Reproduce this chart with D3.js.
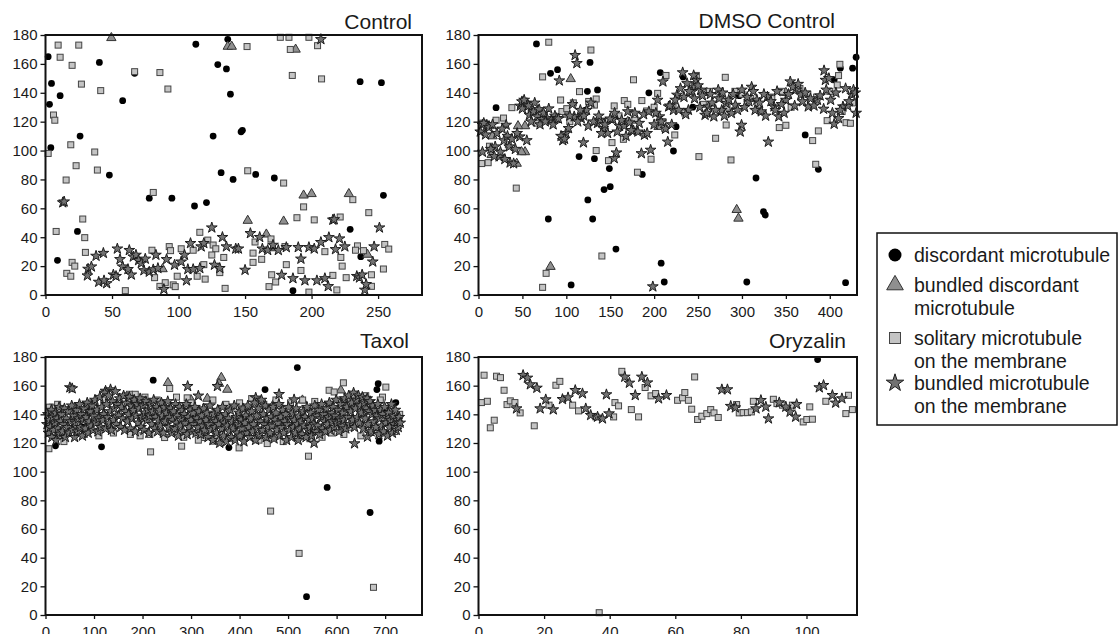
<!DOCTYPE html>
<html>
<head>
<meta charset="utf-8">
<script src="https://cdn.jsdelivr.net/npm/d3@7"></script>
<style>
  body { margin: 0; background: #fff; }
  svg text { font-family: "Liberation Sans", Arial, sans-serif; fill: #1a1a1a; }
</style>
</head>
<body>
<svg id="chart" width="1119" height="634"></svg>
<script>
// legend categories (one entry per marker type, split into lines as printed)
const categories = [
    ["discordant microtubule"],
    ["bundled discordant", "microtubule"],
    ["solitary microtubule", "on the membrane"],
    ["bundled microtubule", "on the membrane"]
];
const yTicks = [0, 20, 40, 60, 80, 100, 120, 140, 160, 180];

// ---- Control ----
const controlCircles = [[2,165],[3,132],[4.5,146.5],[4,102],[11,138],[26,110],[9,24],[24,44],[40.5,161],[48,83],[58,134.5],[67,153.5],[78,67],[95,67],[113,173.6],[112,61.6],[121,64],[126,110],[129.5,159.5],[132,84.7],[137,177],[136,156.5],[139,139],[141,80],[147,113],[148,114],[158,83.5],[172,81],[186,3],[236.5,147.7],[252.5,147],[254,69],[229,45.5],[237,26.5]];
const controlTriangles = [[49.5,178],[137,172],[140,172],[188,170],[194,69],[200,70],[228,70],[152,51.5],[179,51],[88,18],[166,42],[171,32.5],[242,28]];
const controlSquares = [[2,98],[9.5,173],[11,164.6],[6,124.6],[7,121],[20,159],[25,173],[27,146],[19,104],[23,89.5],[15.5,79.6],[8,44],[28,52.6],[29.5,39.7],[30,29.5],[16,15],[19,13],[20,22.6],[22,20],[37,99],[39,86.5],[41.5,141.5],[67,154.6],[81,71],[86,154],[92,142.6],[60,3],[80,31],[82,12],[86,6],[90,8.5],[93,33.5],[94,30.7],[96,7],[97.5,5.8],[99,13],[102,32],[111,31],[114,13],[116,43.4],[120,11],[119,21],[122,38],[126,34.6],[128,32],[125,27.7],[131,15.5],[135,4.6],[134,26],[151.5,172],[152,86],[156,29],[156,22.6],[157.5,36.7],[162.5,24.7],[168,5.8],[170,14],[173,9],[169.5,38.8],[176.5,178.4],[183,178.4],[184,170],[185.5,152],[179,77.5],[180,33.5],[181,21],[189,53.5],[194,61],[192,17],[198,178.4],[198,2],[202,52],[204.5,172.6],[207.5,149.6],[210,30],[216,13.6],[219,3.5],[221.5,54],[222,26],[223,20],[226,12],[231,66],[234.5,34],[233,31],[239,30.7],[243,57],[245,14],[245,6],[254,18],[255,35],[258,31.8]];
const controlStars = [[13,64],[14,64.6],[32,18],[31.5,13.4],[34.5,19.6],[38,27],[40,9],[43.5,29],[46,8],[44,10],[51,14],[53,13],[54,32],[56,24.7],[58,19.6],[62,17.8],[63,31],[64.5,14],[66,26.5],[68,27.7],[70,24],[72,22],[75,25],[74,17],[78,16],[81,17.6],[83,27.7],[84.5,18.5],[89,4],[91,24.7],[97,20.8],[102,23],[104.5,27.7],[106,10],[107,17.8],[109,35.8],[111,17.8],[116,18.5],[117,33.5],[119,35.8],[125,46.6],[127,20.8],[131,18.5],[133,40],[136,33.5],[143,32],[145,32],[150,17.3],[154,42.7],[161,40],[163,32],[167,31],[171,34.6],[177.5,13.8],[175,31],[181,33],[186,11.5],[190,33],[192,25],[195,10],[198,33],[202,32],[204,10],[207,36.5],[210,11.5],[212.5,6],[216,52],[217,52.3],[213,39.9],[218,31.6],[221,39],[225,33.5],[234,13],[236,12],[238,14],[240,3.5],[241,7.4],[247,33.5],[246,23],[251,46.6],[207,177]];

// ---- DMSO Control ----
const dmsoCircles = [[66,173.8],[82,153.5],[90,156],[20,129.7],[127,161],[124,141],[135.5,142],[122,128],[114.5,95.8],[132,94.4],[149,87.5],[143,73],[150,75],[124.5,65.8],[130,52.6],[79.5,52.6],[156.5,31.8],[105.5,7],[186.5,83.5],[194,140],[207,154],[222,99.7],[225,116.5],[233,151],[244,130],[208,22],[211.5,9],[297,138],[305.5,9],[316,81],[324.5,57.7],[326.5,55.4],[372,110.8],[387,87],[405,149],[412,157],[426,157],[430,164.6],[418,8.5]];
const dmsoTriangles = [[105,149.6],[82,19.6],[294,59],[296,53],[16,110],[15,97],[43.5,91],[53,99],[49,99],[53,117],[205,116.5],[12,117],[45,117],[100,125],[170,120],[245,145],[260,140],[350,140]];
const dmsoSquares = [[80,175],[73,151],[128,169.6],[73,5.3],[77,15],[43,74],[140.5,27],[176.5,149],[181,85],[134,100],[152,105.5],[148,93],[196.5,94],[213.5,152],[223.5,110.8],[251,95.8],[270,108.5],[281,150.7],[282,117.7],[287.5,93.5],[342.5,115.9],[350,117.5],[380.5,106.9],[384,90.5],[387,113.6],[397,120.7],[411.5,159.7],[410,151.9],[408.5,145.4],[418.5,119.3],[423.5,118.9],[3.6,91],[11,91.6],[12.5,103],[28.5,122.5],[38,129.7],[95,127],[93.5,135],[100.5,129],[108,133],[115,140.8],[125.5,134],[134,135.7],[132,131.5],[154.5,130.9],[166,134.6],[165,107.8],[186,134.6],[191.5,127.4],[200,130],[204,139.6],[212,115.4],[221.5,130.4],[5,119],[20,121],[34,104],[60,127],[66,119],[72,125],[86,121],[104,120],[118,124],[145,120],[160,124],[170,132],[178,121],[210,120],[235,126],[242,143],[248,152],[256,132],[263,141],[275,137],[283,130],[292,141],[300,139],[310,136],[320,128],[334,137],[345,141],[356,130],[366,143],[375,139],[385,137],[400,141],[414,127],[426,133]];
const dmsoStars = [[4.5,117.7],[4.5,99],[9.5,117.7],[19,102.7],[23.5,95.8],[29,107],[31.5,117.7],[35,102.7],[36,91.6],[40,91],[47,109.6],[55,107],[47.5,130.9],[49.5,133.9],[55,132.7],[58,124.6],[62.5,127],[67,123.5],[69,128.5],[72,121.6],[78,122.3],[83,121.2],[87,124],[89,122.3],[92,148.4],[96,107],[99.5,112],[102.5,115.4],[110,166],[112,160.4],[109,123.5],[117,122.3],[119.5,105.5],[123,128],[135.5,118.9],[138.5,121.2],[142,115.4],[147,112],[154.5,94.6],[157,98.5],[153,121.6],[160.5,117],[166,117],[172,119.3],[176.5,113.8],[181.5,113],[185.5,98],[189,110.8],[196,100.4],[198.5,5.8],[204,135],[206,123.5],[210,147.7],[215.5,106],[216.5,130.4],[222,128],[226,138.5],[232.5,154],[237.5,146.5],[239,128],[243,140.8],[248,148.8],[253,142],[258,124.6],[262,130.4],[268,123.5],[273,142],[277,128],[282,132.7],[288,125.8],[292.5,131.5],[299.5,117.7],[298,113],[308,133.9],[311,144],[317,135],[322,127],[330,106],[329,137.2],[336.5,130.4],[342,123.5],[350,135],[355,147.7],[361,142],[367,138.5],[375.5,130.4],[386,135],[393,128.8],[393.5,155.4],[395,148.8],[401,135],[405,118.4],[410,122.3],[415,130.4],[420.5,130.9],[425.5,138.5],[427,142],[2,113],[6,119],[8,111],[12,116],[14,101],[16,118],[18,96],[21,112],[25,99],[27,115],[30,94],[33,110],[38,108],[42,101],[44,112],[50,129],[52,135],[57,131],[60,120],[64,133],[70,118],[74,126],[76,120],[80,129],[85,118],[91,122],[94,110],[98,108],[104,124],[107,132],[113,120],[116,128],[120,124],[125,117],[128,133],[131,120],[137,124],[140,112],[144,118],[150,122],[155,126],[158,113],[163,121],[168,110],[170,127],[174,114],[178,126],[183,119],[188,125],[192,112],[194,127],[200,118],[202,126],[208,120],[213,115],[218,131],[220,118],[224,135],[228,128],[230,143],[234,137],[236,125],[240,141],[245,152],[246,136],[250,145],[252,130],[255,138],[260,126],[264,139],[266,133],[270,128],[274,136],[278,140],[280,124],[285,135],[290,139],[295,128],[300,142],[303,130],[306,137],[313,141],[315,128],[320,133],[325,139],[327,124],[333,134],[338,128],[340,141],[345,132],[348,126],[353,139],[358,144],[360,131],[364,146],[369,134],[372,140],[378,136],[382,131],[389,138],[396,142],[399,150],[403,126],[407,140],[412,128],[418,143],[422,134],[429,140],[430,126]];

// ---- Taxol ----
const taxolCircles = [[519,172.6],[222,163.8],[685.7,161.4],[683,157.3],[452.5,157.3],[538,12.8],[580.5,89],[669,71.5],[20.6,118],[115.5,117.3],[378,116.8],[687.7,121.3],[722,148.2],[75.6,131.2],[179,144],[546.8,127.8],[90,142],[300,137],[410,138],[600,136],[700,144],[640,150]];
const taxolTriangles = [[362.4,165.6],[357.6,161.4],[374.8,157.3],[252.4,162],[529.6,149.8],[608.7,156.8],[333.6,151],[65.3,138],[120,140],[200,138],[300,150],[420,142],[470,147],[640,145]];
const taxolSquares = [[464,72.5],[522.7,43],[676,19.3],[542,110.8],[7,116],[216.6,113.8],[280.6,117.8],[399,116.6],[457,119.6],[346,121.3],[614,162],[701.5,159],[256,158],[173,154],[292,151.5],[584.6,156.8],[595,155.6],[621,148.7],[694.6,152],[687.7,126.6],[13.8,145],[129.3,131.2],[324.6,123.8],[245.5,123.8],[8,145],[15,128],[25,147],[38,121],[50,143],[65,146],[80,126],[95,148],[110,125],[120,150],[140,127],[165,153],[175,126],[185,154],[195,125],[205,152],[215,126],[230,150],[240,135],[260,128],[270,152],[285,124],[300,148],[315,122],[330,145],[345,150],[360,126],[372,147],[388,123],[400,148],[410,129],[425,151],[440,122],[450,147],[462,125],[475,150],[490,121],[505,148],[520,124],[530,150],[545,123],[555,149],[570,124],[590,127],[605,150],[615,126],[628,131],[640,150],[650,125],[660,153],[672,129],[690,150],[700,127],[712,145],[720,128],[730,140],[14,135],[60,133],[150,140],[250,141],[350,138],[430,136],[500,139],[560,142],[650,137],[710,135]];
const taxolStars = [[50.2,158.7],[55,158],[293,159.6],[354.3,159.6],[637,119.6],[134,157.3],[123.8,156.3],[315,152.9],[481.4,154],[512.4,150.3],[433.3,151.5],[663.7,124.3],[553.6,120],
  [3,133],[5,140],[6,127],[8,136],[10,131],[12,143],[13,124],[15,138],[17,129],[19,134],[21,141],[22,122],[24,137],[26,130],[28,145],[30,126],[31,135],[33,140],[35,128],[37,133],[39,144],[41,124],[43,137],[45,131],[47,142],[49,127],[52,135],[54,146],[56,129],[58,139],[60,124],
  [62,134],[64,143],[66,128],[68,137],[70,147],[72,131],[74,140],[76,125],[78,136],[80,144],[82,130],[84,138],[86,148],[88,127],[90,135],[92,142],[94,132],[96,146],[98,129],[100,139],[102,150],[104,134],[106,143],[108,128],[110,137],[112,152],[114,131],[116,145],[118,136],[120,140],[122,155],[124,130],[126,147],[128,138],[130,153],[132,134],[134,142],[136,129],[138,149],[140,136],[142,144],[144,156],[146,133],[148,147],
  [151,139],[153,151],[155,131],[157,145],[159,137],[161,153],[163,129],[165,142],[167,148],[169,135],[171,140],[173,152],[175,130],[177,146],[179,137],[181,143],[183,150],[185,128],[187,139],[189,147],[191,134],[193,144],[195,151],[197,131],[199,138],[201,146],[203,129],[205,141],[207,149],[209,136],[211,143],[213,127],[215,139],[217,147],[219,133],[221,142],[223,150],[225,130],[227,138],[229,145],[231,128],[233,136],[235,143],[237,132],[239,148],[241,139],[243,127],[245,145],[247,135],[249,141],
  [252,149],[254,131],[256,138],[258,144],[260,127],[262,136],[264,142],[266,130],[268,147],[270,134],[272,139],[274,125],[276,145],[278,132],[280,137],[282,143],[284,128],[286,140],[288,134],[290,147],[292,126],[294,138],[296,131],[298,143],[300,136],[302,128],[304,141],[306,133],[308,145],[310,127],[312,137],[314,131],[316,142],[318,135],[320,126],[322,139],[324,132],[326,144],[328,129],
  [331,136],[333,141],[335,124],[337,133],[339,146],[341,129],[343,137],[345,122],[347,140],[349,131],[351,135],[353,127],[355,143],[357,133],[359,120],[361,138],[363,130],[365,145],[367,125],[369,134],[371,140],[373,121],[375,132],[377,137],[379,128],[381,143],[383,124],[385,135],[387,130],[389,146],[391,122],[393,138],[395,127],[397,133],[399,141],
  [401,125],[403,136],[405,130],[407,144],[409,121],[411,134],[413,139],[415,127],[417,146],[419,131],[421,124],[423,137],[425,142],[427,128],[429,133],[431,148],[433,122],[435,139],[437,130],[439,144],[441,126],[443,135],[445,150],[447,129],[449,140],[451,133],[453,146],[455,124],[457,137],[459,131],[461,143],[463,127],[465,138],[467,132],[469,145],
  [471,123],[473,136],[475,141],[477,129],[479,134],[481,147],[483,125],[485,138],[487,131],[489,143],[491,127],[493,135],[495,140],[497,122],[499,133],[501,145],[503,129],[505,137],[507,124],[509,141],[511,131],[513,136],[515,127],[517,144],[519,133],[521,122],[523,139],[525,130],[527,135],[529,126],[531,142],[533,132],[535,138],[537,124],[539,145],[541,129],[543,136],[545,131],[547,141],[549,125],[551,137],[553,133],[555,146],[557,128],[559,139],
  [561,132],[563,143],[565,126],[567,137],[569,147],[571,130],[573,140],[575,135],[577,128],[579,144],[581,133],[583,138],[585,148],[587,129],[589,141],[591,135],[593,145],[595,131],[597,139],[599,150],[601,134],[603,143],[605,128],[607,137],[609,147],[611,132],[613,141],[615,136],[617,151],[619,130],
  [621,145],[623,138],[625,153],[627,133],[629,142],[631,148],[633,136],[635,155],[637,131],[639,144],[641,150],[643,138],[645,153],[647,134],[649,146],[651,141],[653,152],[655,130],[657,148],[659,137],[661,144],[663,151],[665,133],[667,142],[669,149],[671,128],[673,140],[675,146],[677,135],[679,143],
  [681,131],[683,139],[685,147],[687,126],[689,137],[691,143],[693,132],[695,140],[697,128],[699,145],[701,134],[703,138],[705,125],[707,141],[709,131],[711,136],[713,147],[715,127],[717,139],[719,133],[721,143],[723,129],[725,136],[727,131],[729,138],[731,134]];

// ---- Oryzalin ----
const oryzalinCircles = [[103.4,178.2]];
const oryzalinTriangles = [];
const oryzalinSquares = [[0.9,148.2],[1.7,167.3],[2.7,149.1],[3.6,130.6],[4.8,135.9],[5.5,166.6],[6.7,165.6],[7.8,156.8],[8.7,146.8],[9.7,149.4],[11.1,148.2],[12.7,141],[17,132],[21.5,146.4],[23.6,160.3],[24.8,163],[28.7,146.4],[30.5,142.4],[36.8,1.6],[35.8,138.2],[41.2,138.2],[41.6,148.2],[42.7,145.9],[43.7,170],[46.6,143.3],[48.8,138.2],[50.8,158.7],[52.6,152.9],[54,154.5],[60.7,149.8],[62.2,151.5],[62.9,155.2],[64,149.8],[65,143.6],[65.9,166.1],[66.8,136.4],[68.1,138.7],[69.6,140.5],[70.8,143.3],[71.8,141],[73.1,137.8],[78.7,146.8],[79.5,141],[80.7,141.2],[82,141.2],[83.2,141.7],[83.8,149.1],[89.9,150.5],[91,147.5],[92.7,146.4],[95.7,146.4],[99,134.7],[100.1,136.4],[101.8,136.6],[101,145.2],[105.9,149.1],[112,140.5],[112.8,153.3],[114,143.3]];
const oryzalinStars = [[13.6,167.3],[14.9,165.4],[15.8,160.8],[17.8,158.4],[18.8,144],[20.5,150.3],[22.8,143.3],[11.6,144],[25.6,150.5],[27.3,151.7],[29.5,156.8],[31.7,154.5],[32.7,144],[34.2,139.4],[36.3,138.2],[37.8,137],[39,153.8],[39.8,140.5],[44.6,166.1],[46,161.9],[47.8,153.3],[49.8,166.1],[51.5,162.1],[54.9,151],[57.3,153.3],[74.2,157.3],[75.9,157.3],[76.9,145.7],[78.3,144.7],[84.6,144],[86.1,149.8],[87.6,145.2],[88.4,137],[91.7,148.2],[93.7,145.2],[95,141.7],[97,147],[96.7,138.2],[103.9,158.7],[105.2,160.3],[107.9,153.3],[108.9,148],[110.8,151]];

const panels = [
    { title: "Control", box: [45.5, 35, 422, 295], xMax: 283, xTicks: [0, 50, 100, 150, 200, 250], titlePos: [412, 29],
      circle: controlCircles, triangle: controlTriangles, square: controlSquares, star: controlStars },
    { title: "DMSO Control", box: [478.5, 35, 857, 295], xMax: 431, xTicks: [0, 50, 100, 150, 200, 250, 300, 350, 400], titlePos: [835, 28],
      circle: dmsoCircles, triangle: dmsoTriangles, square: dmsoSquares, star: dmsoStars },
    { title: "Taxol", box: [45.5, 357, 422, 615], xMax: 776, xTicks: [0, 100, 200, 300, 400, 500, 600, 700], titlePos: [409, 348],
      circle: taxolCircles, triangle: taxolTriangles, square: taxolSquares, star: taxolStars },
    { title: "Oryzalin", box: [478.5, 357, 857, 615], xMax: 115.4, xTicks: [0, 20, 40, 60, 80, 100], titlePos: [846, 348],
      circle: oryzalinCircles, triangle: oryzalinTriangles, square: oryzalinSquares, star: oryzalinStars }
];

const svg = d3.select("#chart");
const styles = {
    circle: { fill: "#000" },
    triangle: { fill: "#8f8f8f", stroke: "#333" },
    square: { fill: "#c4c4c4", stroke: "#444" },
    star: { fill: "#727272", stroke: "#1c1c1c" }
};

function drawMarker(sel, kind, big) {
    const k = big ? 1 : 0;
    if (kind === "circle") {
        sel.append("circle").attr("r", [3.4, 6.5][k]).attr("fill", styles.circle.fill);
    } else if (kind === "square") {
        const s = [6, 11][k];
        sel.append("rect").attr("x", -s / 2).attr("y", -s / 2).attr("width", s).attr("height", s)
            .attr("fill", styles.square.fill).attr("stroke", styles.square.stroke).attr("stroke-width", 1);
    } else {
        const type = kind === "triangle" ? d3.symbolTriangle : d3.symbolStar;
        const size = kind === "triangle" ? [38, 120][k] : [36, 95][k];
        sel.append("path").attr("d", d3.symbol(type, size)())
            .attr("fill", styles[kind].fill).attr("stroke", styles[kind].stroke).attr("stroke-width", 1);
    }
}

panels.forEach(p => {
    const [x0, y0, x1, y1] = p.box;
    const x = d3.scaleLinear().domain([0, p.xMax]).range([x0, x1]);
    const y = d3.scaleLinear().domain([0, 180]).range([y1, y0]);
    const g = svg.append("g");

    const yAxis = g.append("g").attr("transform", `translate(${x0},0)`)
        .call(d3.axisLeft(y).tickValues(yTicks).tickSize(5).tickPadding(3));
    const xAxis = g.append("g").attr("transform", `translate(0,${y1})`)
        .call(d3.axisBottom(x).tickValues(p.xTicks).tickSize(4).tickPadding(7));
    [yAxis, xAxis].forEach(a => {
        a.select(".domain").remove();
        a.selectAll("line").attr("stroke", "#111").attr("stroke-width", 1.3);
        a.selectAll("text").attr("font-size", "15px").attr("fill", "#1a1a1a")
            .style("font-family", '"Liberation Sans", Arial, sans-serif');
    });

    ["circle", "triangle", "square", "star"].forEach(kind => {
        g.append("g").selectAll("g").data(p[kind]).join("g")
            .attr("transform", d => `translate(${x(d[0])},${y(d[1])})`)
            .each(function () { drawMarker(d3.select(this), kind, false); });
    });

    g.append("rect").attr("x", x0).attr("y", y0).attr("width", x1 - x0).attr("height", y1 - y0)
        .attr("fill", "none").attr("stroke", "#111").attr("stroke-width", 2);

    g.append("text").attr("x", p.titlePos[0]).attr("y", p.titlePos[1])
        .attr("text-anchor", "end").attr("font-size", "21px").text(p.title);
});

// legend
const legend = svg.append("g");
legend.append("rect").attr("x", 877).attr("y", 233).attr("width", 240).attr("height", 192)
    .attr("fill", "#fff").attr("stroke", "#111").attr("stroke-width", 1.5);
const kinds = ["circle", "triangle", "square", "star"];
const rowY = [255, 285, 338, 383];
categories.forEach((lines, i) => {
    const m = legend.append("g").attr("transform", `translate(895,${rowY[i]})`);
    drawMarker(m, kinds[i], true);
    lines.forEach((t, j) => {
        legend.append("text").attr("x", 914).attr("y", rowY[i] + 6.5 + j * 23.5)
            .attr("font-size", "19.5px").text(t);
    });
});
</script>
</body>
</html>
